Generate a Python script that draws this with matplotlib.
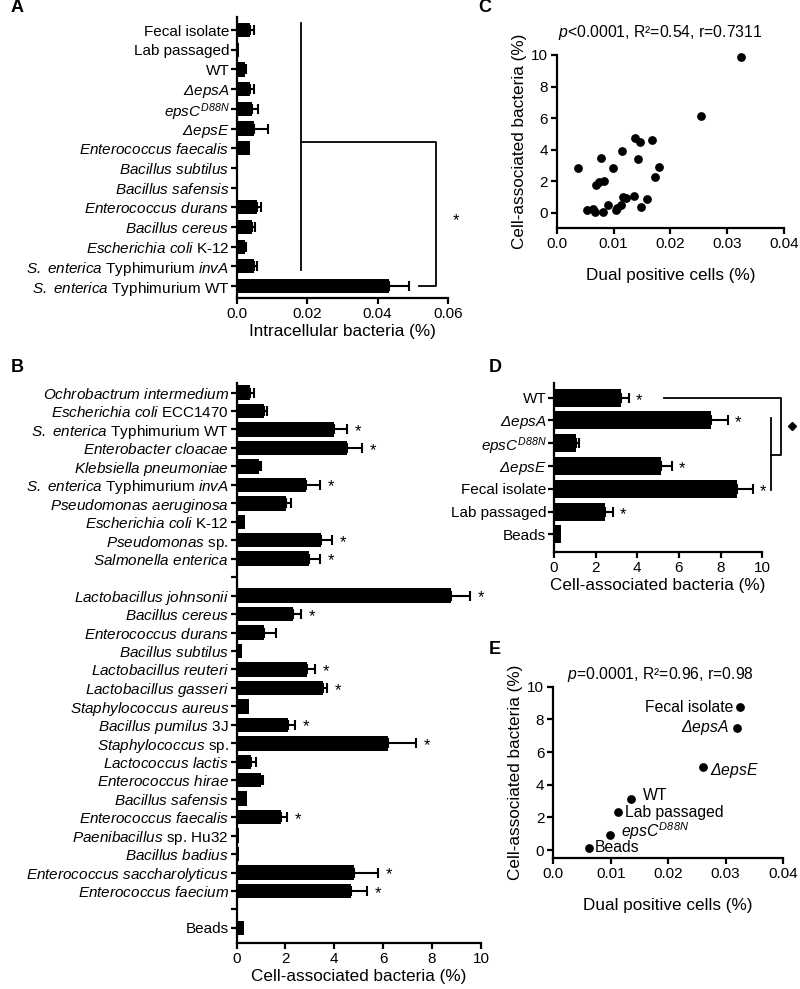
import numpy as np
import matplotlib
matplotlib.use("Agg")
import matplotlib.pyplot as plt

plt.rcParams['font.family'] = ['Liberation Sans', 'DejaVu Sans']
plt.rcParams['mathtext.fontset'] = 'custom'
plt.rcParams['mathtext.rm'] = 'Liberation Sans:italic'
plt.rcParams['mathtext.it'] = 'Liberation Sans:italic'
plt.rcParams['mathtext.bf'] = 'Liberation Sans:bold'

# ---------------- Data ----------------
# Panel A: intracellular bacteria (%)
A_labels = ['Fecal isolate', 'Lab passaged', 'WT', r'$\Delta epsA$', r'$epsC^{D88N}$',
            r'$\Delta epsE$', r'$Enterococcus\ faecalis$', r'$Bacillus\ subtilus$',
            r'$Bacillus\ safensis$', r'$Enterococcus\ durans$', r'$Bacillus\ cereus$',
            r'$Escherichia\ coli$ K-12', r'$S.\ enterica$ Typhimurium $invA$',
            r'$S.\ enterica$ Typhimurium WT']
A_vals = [0.0036, 0.0005, 0.0022, 0.0036, 0.0044, 0.0049, 0.0038, 0.0, 0.0, 0.0057,
          0.0043, 0.0024, 0.0048, 0.0432]
A_errs = [0.0012, 0.0, 0.0003, 0.0012, 0.0017, 0.0039, 0.0, 0.0, 0.0, 0.0012,
          0.0008, 0.0002, 0.0010, 0.0057]
A_ticks = [0.0, 0.02, 0.04, 0.06]
A_ticklabels = ['0.0', '0.02', '0.04', '0.06']

# Panel B: cell-associated bacteria (%)
B_labels = [r'$Ochrobactrum\ intermedium$', r'$Escherichia\ coli$ ECC1470',
            r'$S.\ enterica$ Typhimurium WT', r'$Enterobacter\ cloacae$',
            r'$Klebsiella\ pneumoniae$', r'$S.\ enterica$ Typhimurium $invA$',
            r'$Pseudomonas\ aeruginosa$', r'$Escherichia\ coli$ K-12',
            r'$Pseudomonas$ sp.', r'$Salmonella\ enterica$', '',
            r'$Lactobacillus\ johnsonii$', r'$Bacillus\ cereus$', r'$Enterococcus\ durans$',
            r'$Bacillus\ subtilus$', r'$Lactobacillus\ reuteri$', r'$Lactobacillus\ gasseri$',
            r'$Staphylococcus\ aureus$', r'$Bacillus\ pumilus$ 3J', r'$Staphylococcus$ sp.',
            r'$Lactococcus\ lactis$', r'$Enterococcus\ hirae$', r'$Bacillus\ safensis$',
            r'$Enterococcus\ faecalis$', r'$Paenibacillus$ sp. Hu32', r'$Bacillus\ badius$',
            r'$Enterococcus\ saccharolyticus$', r'$Enterococcus\ faecium$', '', 'Beads']
B_vals = [0.57, 1.12, 3.97, 4.52, 0.91, 2.86, 2.04, 0.34, 3.47, 2.98, 0.0,
          8.78, 2.31, 1.14, 0.22, 2.88, 3.52, 0.50, 2.10, 6.18, 0.60, 1.00, 0.43,
          1.82, 0.12, 0.10, 4.82, 4.68, 0.0, 0.30]
B_errs = [0.14, 0.13, 0.55, 0.61, 0.08, 0.57, 0.19, 0.0, 0.43, 0.45, 0.0,
          0.77, 0.34, 0.46, 0.0, 0.34, 0.18, 0.0, 0.28, 1.15, 0.20, 0.07, 0.0,
          0.25, 0.0, 0.0, 0.96, 0.65, 0.0, 0.0]
B_star = [0, 0, 1, 1, 0, 1, 0, 0, 1, 1, 0,
          1, 1, 0, 0, 1, 1, 0, 1, 1, 0, 0, 0,
          1, 0, 0, 1, 1, 0, 0]

# Panel C: scatter
C_x = [0.03247, 0.02535, 0.00376, 0.00782, 0.00982, 0.01141, 0.01376, 0.01459, 0.01671,
       0.01435, 0.01806, 0.01735, 0.00700, 0.00753, 0.00835, 0.00529, 0.00641, 0.00676,
       0.00812, 0.00906, 0.01035, 0.01059, 0.01124, 0.01165, 0.01218, 0.01365, 0.01588,
       0.01488]
C_y = [9.85, 6.12, 2.80, 3.45, 2.82, 3.92, 4.75, 4.45, 4.60, 3.41, 2.88, 2.25, 1.72, 1.97,
       2.03, 0.19, 0.25, 0.04, 0.02, 0.49, 0.17, 0.30, 0.49, 1.00, 0.91, 1.06, 0.83, 0.38]
C_title = r'$p$<0.0001, R²=0.54, r=0.7311'

# Panel D
D_labels = ['WT', r'$\Delta epsA$', r'$epsC^{D88N}$', r'$\Delta epsE$', 'Fecal isolate',
            'Lab passaged', 'Beads']
D_vals = [3.22, 7.53, 1.05, 5.15, 8.77, 2.46, 0.32]
D_errs = [0.38, 0.80, 0.16, 0.51, 0.77, 0.35, 0.0]
D_star = [1, 1, 0, 1, 1, 1, 0]

# Panel E
E_labels = ['Fecal isolate', r'$\Delta epsA$', r'$\Delta epsE$', 'WT', 'Lab passaged',
            r'$epsC^{D88N}$', 'Beads']
E_x = [0.03244, 0.03203, 0.02610, 0.01349, 0.01128, 0.00994, 0.00616]
E_y = [8.75, 7.49, 5.09, 3.12, 2.32, 0.92, 0.14]
E_title = r'$p$=0.0001, R²=0.96, r=0.98'

X4_ticks = [0.0, 0.01, 0.02, 0.03, 0.04]
X4_ticklabels = ['0.0', '0.01', '0.02', '0.03', '0.04']

# ---------------- Figure ----------------
W, H = 800, 989
fig = plt.figure(figsize=(W / 100, H / 100), dpi=100)

def px_axes(l, t, r, b):
    return fig.add_axes([l / W, 1 - b / H, (r - l) / W, (b - t) / H])

LW = 1.6
LBL = 12.3
AXL = 12.3
TCK = 11

def style(ax):
    for s in ['top', 'right']:
        ax.spines[s].set_visible(False)
    for s in ['left', 'bottom']:
        ax.spines[s].set_linewidth(LW)
    ax.tick_params(width=LW, length=4.5, labelsize=TCK, direction='out', pad=2)

def barpanel(ax, labels, vals, errs, stars, bh, star_off, xlim, ylim_b, ylim_t, lsize):
    y = np.arange(len(labels))
    ax.barh(y, vals, height=bh, color='black')
    v = np.array(vals, float)
    e = np.array(errs, float)
    m = e > 0
    ax.errorbar(v[m], y[m], xerr=[np.zeros(m.sum()), e[m]], fmt='none', ecolor='black',
                elinewidth=1.5, capsize=3.5, capthick=1.5)
    if stars is not None:
        for i, s in enumerate(stars):
            if s:
                ax.text(v[i] + e[i] + star_off, y[i] + 0.12, '*', ha='center', va='center',
                        fontsize=12, clip_on=False)
    ax.set_yticks(y)
    ax.set_yticklabels(labels, fontsize=lsize)
    ax.set_xlim(*xlim)
    ax.set_ylim(ylim_b, ylim_t)
    style(ax)
    ax.tick_params(axis='y', length=4, pad=1.5)

# Panel A
axA = px_axes(237, 16.7, 448, 298.3)
barpanel(axA, A_labels, A_vals, A_errs, None, 0.72, 0, (0, 0.06), 13.62, -0.68, LBL)
axA.set_xticks(A_ticks)
axA.set_xticklabels(A_ticklabels)
axA.set_xlabel('Intracellular bacteria (%)', fontsize=AXL, labelpad=2)
bk = dict(color='black', lw=1.3, clip_on=False)
axA.plot([0.0182, 0.0182], [-0.37, 12.18], **bk)
axA.plot([0.0182, 0.0565, 0.0565, 0.0517], [5.67, 5.67, 13.0, 13.0], **bk)
axA.text(0.0622, 9.7, '*', ha='center', va='center', fontsize=12, clip_on=False)

# Panel B
axB = px_axes(236.5, 383.3, 481, 942.7)
barpanel(axB, B_labels, B_vals, B_errs, B_star, 0.78, 0.45, (0, 10), 29.8, -0.5, LBL)
axB.set_xticks([0, 2, 4, 6, 8, 10])
axB.set_xlabel('Cell-associated bacteria (%)', fontsize=AXL, labelpad=2)

# Panel D
axD = px_axes(554, 383, 762.3, 551.7)
barpanel(axD, D_labels, D_vals, D_errs, D_star, 0.79, 0.5, (0, 10), 6.76, -0.64, 12.6)
axD.set_xticks([0, 2, 4, 6, 8, 10])
axD.set_xlabel('Cell-associated bacteria (%)', fontsize=AXL, labelpad=2)
axD.plot([5.3, 10.9, 10.9, 10.41], [0, 0, 2.51, 2.51], **bk)
axD.plot([10.41, 10.41], [0.9, 4.05], **bk)
axD.plot([11.42], [1.24], marker='D', ms=4, color='black', clip_on=False)

# Panel C
axC = px_axes(556.7, 55, 784, 228.3)
axC.scatter(C_x, C_y, s=28, color='black', zorder=3, clip_on=False)
axC.set_xlim(0, 0.04)
axC.set_ylim(-1, 10)
axC.set_xticks(X4_ticks)
axC.set_xticklabels(X4_ticklabels)
axC.set_yticks([0, 2, 4, 6, 8, 10])
style(axC)
axC.set_xlabel('Dual positive cells (%)', fontsize=AXL, labelpad=12)
axC.set_ylabel('Cell-associated bacteria (%)', fontsize=AXL, labelpad=3)
fig.text(660 / W, 1 - 33 / H, C_title, ha='center', va='center', fontsize=11.3)

# Panel E
axE = px_axes(553.3, 686.7, 783, 858.3)
axE.scatter(E_x, E_y, s=28, color='black', zorder=3, clip_on=False)
axE.set_xlim(0, 0.04)
axE.set_ylim(-0.5, 10)
axE.set_xticks(X4_ticks)
axE.set_xticklabels(X4_ticklabels)
axE.set_yticks([0, 2, 4, 6, 8, 10])
style(axE)
axE.set_xlabel('Dual positive cells (%)', fontsize=AXL, labelpad=12)
axE.set_ylabel('Cell-associated bacteria (%)', fontsize=AXL, labelpad=3)
fig.text(660 / W, 1 - 675 / H, E_title, ha='center', va='center', fontsize=11.3)
E_off = [(-4.8, 0, 'right'), (-6.2, 0, 'right'), (4.6, -2.6, 'left'), (8.6, 2.9, 'left'),
         (5.0, 0, 'left'), (7.7, 2.5, 'left'), (4.6, 0, 'left')]
for lab, xx, yy, (dx, dy, ha) in zip(E_labels, E_x, E_y, E_off):
    axE.annotate(lab, (xx, yy), xytext=(dx, dy), textcoords='offset points',
                 ha=ha, va='center', fontsize=11.3)

# Panel letters
for letter, x, y in [('A', 17, 8), ('B', 17, 368), ('C', 485, 8), ('D', 495, 368),
                     ('E', 495, 650)]:
    fig.text(x / W, 1 - y / H, letter, ha='center', va='center', fontsize=13,
             fontweight='bold')

fig.savefig('out.png', dpi=100)
